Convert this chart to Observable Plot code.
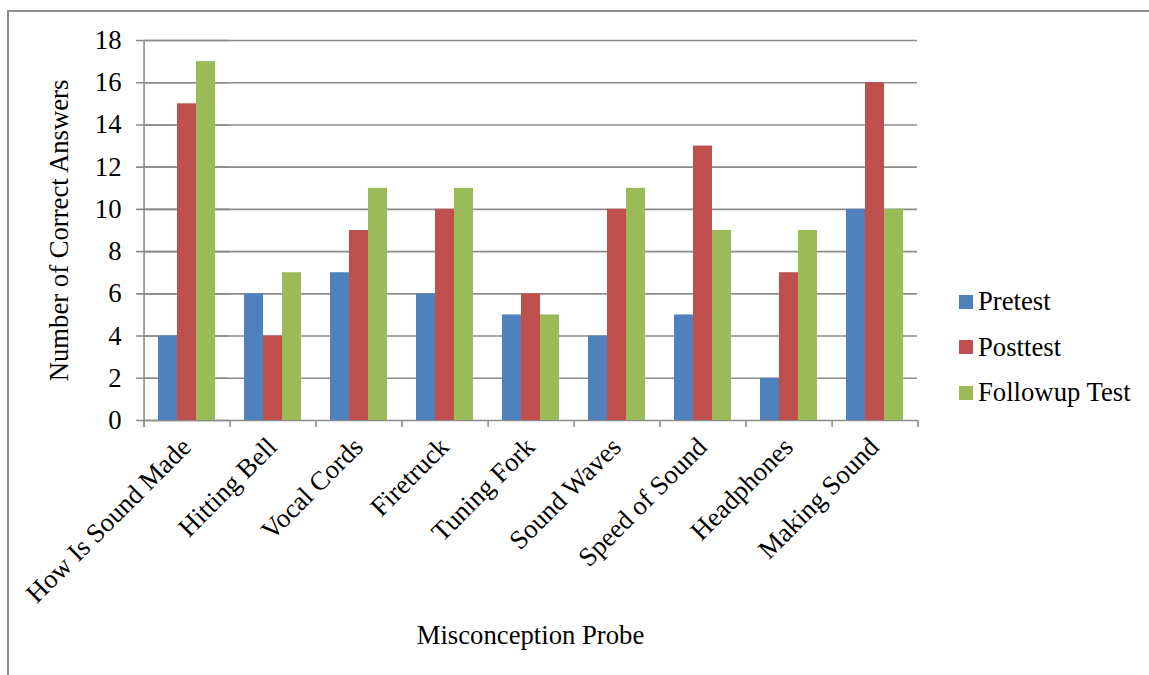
<!DOCTYPE html>
<html>
<head>
<meta charset="utf-8">
<script src="https://cdn.jsdelivr.net/npm/d3@7"></script>
<script src="https://cdn.jsdelivr.net/npm/@observablehq/plot@0.6"></script>
<style>
  html, body { margin: 0; padding: 0; background: #fff; }
  #wrap { position: relative; width: 1149px; height: 675px; overflow: hidden; font-family: "Liberation Serif", "Times New Roman", serif; }
  #border { position: absolute; left: 7px; top: 10px; width: 1200px; height: 700px; border-top: 2px solid #8c8c8c; border-left: 2px solid #8c8c8c; }
  #chart { position: absolute; left: 0; top: 0; }
  #legend { position: absolute; left: 959px; top: 279px; font-family: "Liberation Serif", "Times New Roman", serif; font-size: 26.7px; color: #000; }
  #legend .item { display: flex; align-items: center; height: 45.5px; }
  #legend .sw { width: 14px; height: 14px; margin-right: 5px; }
</style>
</head>
<body>
<div id="wrap">
  <div id="border"></div>
  <div id="chart"></div>
  <div id="legend"></div>
</div>
<script>
const categories = ["How Is Sound Made", "Hitting Bell", "Vocal Cords", "Firetruck", "Tuning Fork", "Sound Waves", "Speed of Sound", "Headphones", "Making Sound"];
const series = ["Pretest", "Posttest", "Followup Test"];
const pretest = [4, 6, 7, 6, 5, 4, 5, 2, 10];
const posttest = [15, 4, 9, 10, 6, 10, 13, 7, 16];
const followup = [17, 7, 11, 11, 5, 11, 9, 9, 10];
const yTicks = [0, 2, 4, 6, 8, 10, 12, 14, 16, 18];
const colors = ["#4F81BD", "#C0504D", "#9BBB59"];

const valuesBySeries = [pretest, posttest, followup];
const data = [];
categories.forEach((c, i) => series.forEach((s, j) => data.push({cat: c, series: s, value: valuesBySeries[j][i]})));

const width = 1149, height = 675;
const marginLeft = 142, marginRight = 232, marginTop = 40, marginBottom = 255;
const catStep = (width - marginLeft - marginRight) / categories.length;
const barW = catStep / 4.5;          // Excel gap width 150%
const edgeOffset = 1.25 * barW;      // from first bar centre to category boundary
const gridColor = "#8c8c8c";

const catRows = categories.map(c => ({cat: c}));

const chart = Plot.plot({
  width, height, marginLeft, marginRight, marginTop, marginBottom,
  style: {fontFamily: "'Liberation Serif', 'Times New Roman', serif", fontSize: "26.7px", color: "#000", background: "transparent"},
  fx: {domain: categories, padding: 0, axis: "bottom", tickRotate: -45, tickSize: 0, tickPadding: 22,
       label: "Misconception Probe", labelAnchor: "center", labelOffset: 223, labelArrow: "none"},
  x: {domain: series, axis: null, paddingInner: 0, paddingOuter: 0.75},
  y: {domain: [0, 18], ticks: yTicks, tickSize: 0, tickPadding: 22,
      label: "Number of Correct Answers", labelAnchor: "center", labelOffset: 94, labelArrow: "none"},
  color: {domain: series, range: colors},
  marks: [
    Plot.ruleY(yTicks, {stroke: gridColor, strokeWidth: 1.6}),
    Plot.ruleY(yTicks.map(v => ({v, cat: categories[0]})), {fx: "cat", y: "v", insetLeft: -7, stroke: gridColor, strokeWidth: 1.6}),
    Plot.barY(data, {fx: "cat", x: "series", y: "value", fill: "series"}),
    Plot.ruleX(catRows, {fx: "cat", x: () => series[0], dx: -edgeOffset, y1: 0, y2: 0, insetBottom: -7, stroke: gridColor, strokeWidth: 1.6}),
    Plot.ruleX([{cat: categories[0]}], {fx: "cat", x: () => series[0], dx: -edgeOffset, y1: 18, y2: 0, insetBottom: -7, stroke: gridColor, strokeWidth: 1.6}),
    Plot.ruleX([{cat: categories[categories.length - 1]}], {fx: "cat", x: () => series[2], dx: edgeOffset, y1: 0, y2: 0, insetBottom: -7, stroke: gridColor, strokeWidth: 1.6})
  ]
});
document.getElementById("chart").appendChild(chart);

const legend = document.getElementById("legend");
series.forEach((s, i) => {
  const item = document.createElement("div");
  item.className = "item";
  const sw = document.createElement("span");
  sw.className = "sw";
  sw.style.background = colors[i];
  const label = document.createElement("span");
  label.textContent = s;
  item.appendChild(sw);
  item.appendChild(label);
  legend.appendChild(item);
});
</script>
</body>
</html>
